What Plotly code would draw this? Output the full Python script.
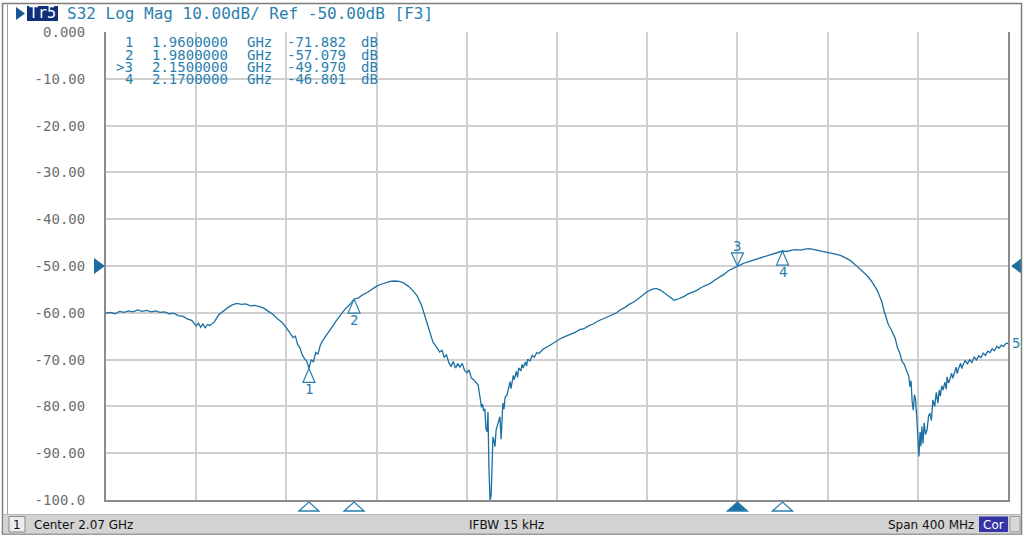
import plotly.graph_objects as go

# ---------------- data ----------------
freq_mhz = [
    1870, 1872, 1874, 1876, 1878, 1880, 1882, 1884, 1886, 1888, 1890, 1892, 1894, 1896, 1898,
    1900, 1902, 1904, 1906, 1908, 1910, 1911, 1912, 1913, 1914, 1915, 1916, 1918, 1920, 1922,
    1924, 1926, 1928, 1930, 1932, 1934, 1936, 1938, 1940, 1942, 1944, 1946, 1948, 1950, 1952,
    1953, 1954, 1955, 1956, 1957, 1958, 1959, 1960, 1961, 1962, 1963, 1964, 1965, 1966, 1968,
    1970, 1972, 1974, 1976, 1978, 1980, 1982, 1984, 1986, 1988, 1990, 1992, 1994, 1996, 1998,
    2000, 2002, 2004, 2006, 2008, 2010, 2011, 2012, 2013, 2014, 2015, 2016, 2018, 2019, 2020,
    2021, 2022, 2023, 2024, 2025, 2026, 2027, 2028, 2029, 2030, 2031, 2032, 2033, 2034, 2035,
    2036, 2036.5, 2037, 2037.5, 2038, 2038.5, 2039, 2039.4, 2039.8, 2040.3, 2040.8, 2041.2,
    2041.6, 2042, 2042.5, 2043, 2043.4, 2044, 2044.7, 2045.2, 2045.6,
    2046, 2046.5, 2047, 2047.8, 2048.5, 2049.2, 2049.6, 2050, 2050.6, 2051, 2052, 2052.5,
    2053, 2054, 2054.5, 2055, 2056, 2056.5, 2057, 2058, 2059, 2060, 2061, 2062,
    2064, 2066, 2068, 2070, 2072, 2074, 2076, 2078, 2080, 2082, 2084, 2086, 2088, 2090, 2092,
    2094, 2096, 2098, 2100, 2102, 2104, 2106, 2108, 2110, 2112, 2114, 2116, 2118, 2120, 2122,
    2124, 2126, 2128, 2130, 2132, 2134, 2136, 2138, 2140, 2142, 2144, 2146, 2148, 2150, 2152,
    2154, 2156, 2158, 2160, 2162, 2164, 2166, 2168, 2170, 2172, 2174, 2176, 2178, 2180, 2182,
    2184, 2186, 2188, 2190, 2192, 2194, 2196, 2198, 2200, 2202, 2204, 2206, 2208, 2210, 2212,
    2213, 2214, 2215, 2216, 2217, 2218, 2219, 2220, 2221, 2222, 2223, 2224, 2225, 2226, 2226.5,
    2227, 2227.5, 2228, 2228.5, 2229, 2229.6, 2230, 2230.5, 2231, 2231.4, 2231.8, 2232.3,
    2232.8, 2233.4, 2234.1, 2234.8, 2235.4, 2236,
    2236.7, 2237.5, 2238.2, 2238.9, 2239.5, 2240, 2240.6, 2241.2, 2242, 2242.6, 2243, 2243.6,
    2244, 2245, 2245.5, 2246, 2247, 2247.5, 2248, 2249, 2249.5, 2250, 2251, 2252,
    2253, 2254, 2255, 2256, 2257, 2258, 2259, 2260, 2261, 2262, 2263, 2264,
    2265, 2266, 2267, 2268, 2269, 2270,
]
s32_db = [
    -60.1, -59.9, -60.2, -59.7, -59.9, -59.6, -59.8, -59.4, -59.7, -59.5, -59.8, -59.6, -59.9, -59.8, -60.2,
    -60.1, -60.6, -60.7, -61.3, -61.6, -62.8, -62.2, -63.1, -62.4, -63.2, -62.5, -62.7, -62.0, -60.4, -59.6,
    -58.9, -58.3, -58.0, -58.2, -58.1, -58.5, -58.4, -58.7, -59.0, -59.7, -60.3, -61.3, -62.0, -63.2, -64.5,
    -65.3, -65.0, -66.8, -67.5, -69.0, -69.8, -70.3, -71.9, -70.0, -70.5, -68.5, -68.8, -67.0, -66.0, -64.5,
    -63.2, -61.8, -60.5, -59.2, -58.3, -57.1, -56.8, -56.1, -55.6, -54.9, -54.3, -53.9, -53.6, -53.3, -53.2,
    -53.3, -53.6, -54.3, -55.2, -56.4, -58.5, -60.0, -61.8, -63.5, -65.0, -66.3, -66.9, -68.4, -68.0, -69.5,
    -69.0, -70.6, -71.5, -70.4, -71.8, -70.9, -71.6, -70.8, -72.3, -72.8, -72.2, -73.9, -74.3, -74.8, -75.4,
    -78.5, -80.2, -79.5, -81.0, -80.5, -84.8, -85.4, -81.2, -92.9, -100.0, -99.0, -90.7,
    -86.5, -87.2, -88.6, -85.0, -84.3, -83.0, -82.2, -87.0, -80.5,
    -79.3, -80.6, -78.0, -77.6, -76.0, -74.7, -76.2, -75.2, -73.4, -74.3, -72.5, -73.8,
    -71.8, -72.4, -71.0, -71.8, -70.5, -71.4, -69.9, -70.3, -69.1, -69.5, -68.5, -68.7,
    -67.7, -67.2, -66.6, -66.1, -65.4, -65.0, -64.6, -64.2, -63.6, -63.4, -62.8, -62.4, -61.8, -61.4, -61.0,
    -60.5, -60.1, -59.4, -58.9, -58.2, -57.7, -57.0, -56.3, -55.5, -55.0, -54.8, -55.2, -55.9, -56.6, -57.3,
    -57.0, -56.6, -56.0, -55.6, -55.2, -54.6, -54.2, -53.7, -53.0, -52.4, -51.8, -51.0, -50.5, -50.0, -49.6,
    -49.2, -48.9, -48.6, -48.3, -48.0, -47.8, -47.5, -47.1, -46.8, -46.9, -46.6, -46.5, -46.6, -46.4, -46.3,
    -46.5, -46.7, -46.8, -47.1, -47.3, -47.5, -47.8, -48.3, -48.8, -49.6, -50.4, -51.4, -52.3, -53.6, -55.2,
    -56.4, -57.6, -59.5, -61.0, -62.6, -63.4, -64.6, -65.5, -67.5, -68.6, -70.4, -71.0, -72.4, -73.5, -75.8,
    -74.5, -79.0, -80.8, -77.5, -78.5, -82.9, -86.0, -90.7, -85.5, -88.5, -84.3, -87.9,
    -83.5, -86.0, -85.0, -82.0, -81.5, -83.0,
    -78.6, -80.0, -77.0, -79.3, -76.5, -77.8, -75.6, -76.5, -74.8, -76.3, -73.7, -75.0,
    -74.6, -72.9, -74.0, -73.2, -71.6, -73.0, -72.0, -70.8, -71.9, -71.2, -70.2, -70.9,
    -70.0, -70.6, -69.4, -70.1, -69.2, -69.6, -68.6, -69.1, -68.2, -68.5, -67.7, -68.1,
    -67.2, -67.6, -66.9, -67.2, -66.6, -66.5,
]

marker_labels = ["1", "2", ">3", "4"]
marker_names = ["1", "2", "3", "4"]
marker_freq_ghz = [1.96, 1.98, 2.15, 2.17]
marker_db = [-71.882, -57.079, -49.970, -46.801]
active_marker = 2

y_tick_vals = [0, -10, -20, -30, -40, -50, -60, -70, -80, -90, -100]
y_tick_text = ["0.000", "-10.00", "-20.00", "-30.00", "-40.00", "-50.00",
               "-60.00", "-70.00", "-80.00", "-90.00", "-100.0"]

trace_name = "Tr5"
header_text = "S32 Log Mag 10.00dB/ Ref -50.00dB [F3]"
trace_number = "5"
channel_text = "1"
status_left = "Center 2.07 GHz"
status_mid = "IFBW 15 kHz"
status_right = "Span 400 MHz"
status_cor = "Cor"
ref_level_db = -50
start_mhz, stop_mhz = 1870, 2270
div_mhz = 40

assert len(freq_mhz) == len(s32_db)

# ---------------- styling / geometry ----------------
W, H = 1024, 537
ML, MR, MT, MB = 106, 16, 32, 37
PW, PH = W - ML - MR, H - MT - MB

TRACE_C = "#1c6fa3"
TEXT_C = "#2b7fb0"
GRID_C = "#cfcfcf"
AXIS_C = "#8c8c8c"
MONO = "DejaVu Sans Mono"
SANS = "DejaVu Sans"


def px(x):
    return (x - ML) / PW


def py(y):
    return (H - MB - y) / PH


fig = go.Figure()
fig.add_trace(go.Scatter(
    x=freq_mhz, y=s32_db, mode="lines",
    line=dict(color=TRACE_C, width=1.3),
    hoverinfo="skip", showlegend=False,
))

shapes = []
annotations = []

# marker triangles on the trace + labels
for i, (f, v, name) in enumerate(zip(marker_freq_ghz, marker_db, marker_names)):
    fx = f * 1000
    if i == active_marker:
        path = "M 0,0 L -6,13 L 6,13 Z"
        yshift = 20
    else:
        path = "M 0,0 L -6,-14 L 6,-14 Z"
        yshift = -21
    shapes.append(dict(type="path", xref="x", yref="y", xsizemode="pixel", ysizemode="pixel",
                       xanchor=fx, yanchor=v, path=path,
                       line=dict(color=TEXT_C, width=1.2), fillcolor="rgba(0,0,0,0)"))
    annotations.append(dict(x=fx, y=v, xref="x", yref="y", text=name, showarrow=False,
                            yshift=yshift, font=dict(family=MONO, size=14, color=TEXT_C)))
    # marker position indicator under the grid
    shapes.append(dict(type="path", xref="x", yref="paper", xsizemode="pixel", ysizemode="pixel",
                       xanchor=fx, yanchor=0, path="M -10,-11 L 0,-2 L 10,-11 Z",
                       line=dict(color=TEXT_C, width=1.3),
                       fillcolor=TRACE_C if i == active_marker else "rgba(0,0,0,0)"))

# marker table
row_y = [42.3, 54.6, 66.9, 79.2]
for i in range(len(marker_labels)):
    yy = py(row_y[i])
    cols = [
        (134, "right", marker_labels[i]),
        (151, "left", f"{marker_freq_ghz[i]:.7f}"),
        (246, "left", "GHz"),
        (286, "left", f"{marker_db[i]:.3f}"),
        (360, "left", "dB"),
    ]
    for cx, anc, txt in cols:
        annotations.append(dict(x=px(cx), y=yy, xref="paper", yref="paper", text=txt,
                                showarrow=False, xanchor=anc, yanchor="middle", borderpad=0,
                                font=dict(family=MONO, size=14, color=TEXT_C)))

# trace end label
annotations.append(dict(x=freq_mhz[-1], y=s32_db[-1], xref="x", yref="y", text=trace_number,
                        showarrow=False, xanchor="left", yanchor="middle", xshift=2,
                        font=dict(family=MONO, size=14, color=TEXT_C)))

# reference level arrows
shapes.append(dict(type="path", xref="paper", yref="y", xsizemode="pixel", ysizemode="pixel",
                   xanchor=0, yanchor=ref_level_db, path="M -12,8 L -1,0 L -12,-8 Z",
                   line=dict(color=TRACE_C, width=0), fillcolor=TRACE_C))
shapes.append(dict(type="path", xref="paper", yref="y", xsizemode="pixel", ysizemode="pixel",
                   xanchor=1, yanchor=ref_level_db, path="M 14,8 L 3,0 L 14,-8 Z",
                   line=dict(color=TRACE_C, width=0), fillcolor=TRACE_C))

# header
shapes.append(dict(type="path", xref="paper", yref="paper",
                   path=f"M {px(16)},{py(7)} L {px(25)},{py(13.5)} L {px(16)},{py(20)} Z",
                   line=dict(width=0), fillcolor="#155a96"))
shapes.append(dict(type="rect", xref="paper", yref="paper",
                   x0=px(27), x1=px(58), y0=py(6), y1=py(21),
                   line=dict(width=0), fillcolor="#10307a"))
annotations.append(dict(x=px(42.5), y=py(13.5), xref="paper", yref="paper", text=trace_name,
                        showarrow=False, xanchor="center", yanchor="middle",
                        font=dict(family=MONO, size=15, color="white")))
annotations.append(dict(x=px(65), y=py(13.5), xref="paper", yref="paper", text=header_text,
                        showarrow=False, xanchor="left", yanchor="middle",
                        font=dict(family=MONO, size=16, color=TEXT_C)))

# window frame
shapes.append(dict(type="rect", xref="paper", yref="paper",
                   x0=px(2.5), x1=px(1021.5), y0=py(534), y1=py(3.5),
                   line=dict(color="#7d7d7d", width=1.5), fillcolor="rgba(0,0,0,0)"))
shapes.append(dict(type="line", xref="paper", yref="paper",
                   x0=px(7.5), x1=px(7.5), y0=py(514), y1=py(3.5),
                   line=dict(color="#a0a0a0", width=1)))

# status bar
shapes.append(dict(type="rect", xref="paper", yref="paper",
                   x0=px(3), x1=px(1021), y0=py(533.5), y1=py(514.5),
                   line=dict(width=0), fillcolor="#d3d3d3"))
shapes.append(dict(type="line", xref="paper", yref="paper",
                   x0=px(3), x1=px(1021), y0=py(514.5), y1=py(514.5),
                   line=dict(color="#b8b8b8", width=1)))
shapes.append(dict(type="rect", xref="paper", yref="paper",
                   x0=px(9), x1=px(25), y0=py(532), y1=py(516.5),
                   line=dict(color="#8a8a8a", width=1), fillcolor="#ececec"))
shapes.append(dict(type="rect", xref="paper", yref="paper",
                   x0=px(979), x1=px(1008), y0=py(532), y1=py(516.5),
                   line=dict(width=0), fillcolor="#3434a6"))
shapes.append(dict(type="rect", xref="paper", yref="paper",
                   x0=px(1010), x1=px(1020), y0=py(532), y1=py(516.5),
                   line=dict(color="#9a9a9a", width=1), fillcolor="#d8d8d8"))

sb_font = dict(family=SANS, size=12, color="#111111")
annotations += [
    dict(x=px(17), y=py(524.5), text=channel_text, xanchor="center"),
    dict(x=px(32), y=py(524.5), text=status_left, xanchor="left"),
    dict(x=px(506), y=py(524.5), text=status_mid, xanchor="center"),
    dict(x=px(976), y=py(524.5), text=status_right, xanchor="right"),
]
for a in annotations[-4:]:
    a.update(xref="paper", yref="paper", showarrow=False, yanchor="middle", font=sb_font)
annotations.append(dict(x=px(993.5), y=py(524.5), xref="paper", yref="paper", text=status_cor,
                        showarrow=False, xanchor="center", yanchor="middle",
                        font=dict(family=SANS, size=12, color="white")))

fig.update_layout(
    width=W, height=H,
    margin=dict(l=ML, r=MR, t=MT, b=MB, pad=0),
    paper_bgcolor="white", plot_bgcolor="white",
    showlegend=False,
    xaxis=dict(range=[start_mhz, stop_mhz], tick0=start_mhz, dtick=div_mhz,
               showticklabels=False, ticks="", showgrid=True, gridcolor=GRID_C, gridwidth=1.5,
               zeroline=False, showline=True, linecolor=AXIS_C, linewidth=1.5, mirror=False,
               fixedrange=True),
    yaxis=dict(range=[-100, 0], tickvals=y_tick_vals, ticktext=y_tick_text,
               ticks="", ticklabelstandoff=16,
               tickfont=dict(family=MONO, size=14, color="#6e6e6e"),
               showgrid=True, gridcolor=GRID_C, gridwidth=1.5, zeroline=False,
               showline=True, linecolor=AXIS_C, linewidth=2, mirror=True, fixedrange=True),
    shapes=shapes,
    annotations=annotations,
)

fig.write_html("out.html", config={"displayModeBar": False},
               post_script="document.body.style.margin='0';document.body.style.overflow='hidden';")
